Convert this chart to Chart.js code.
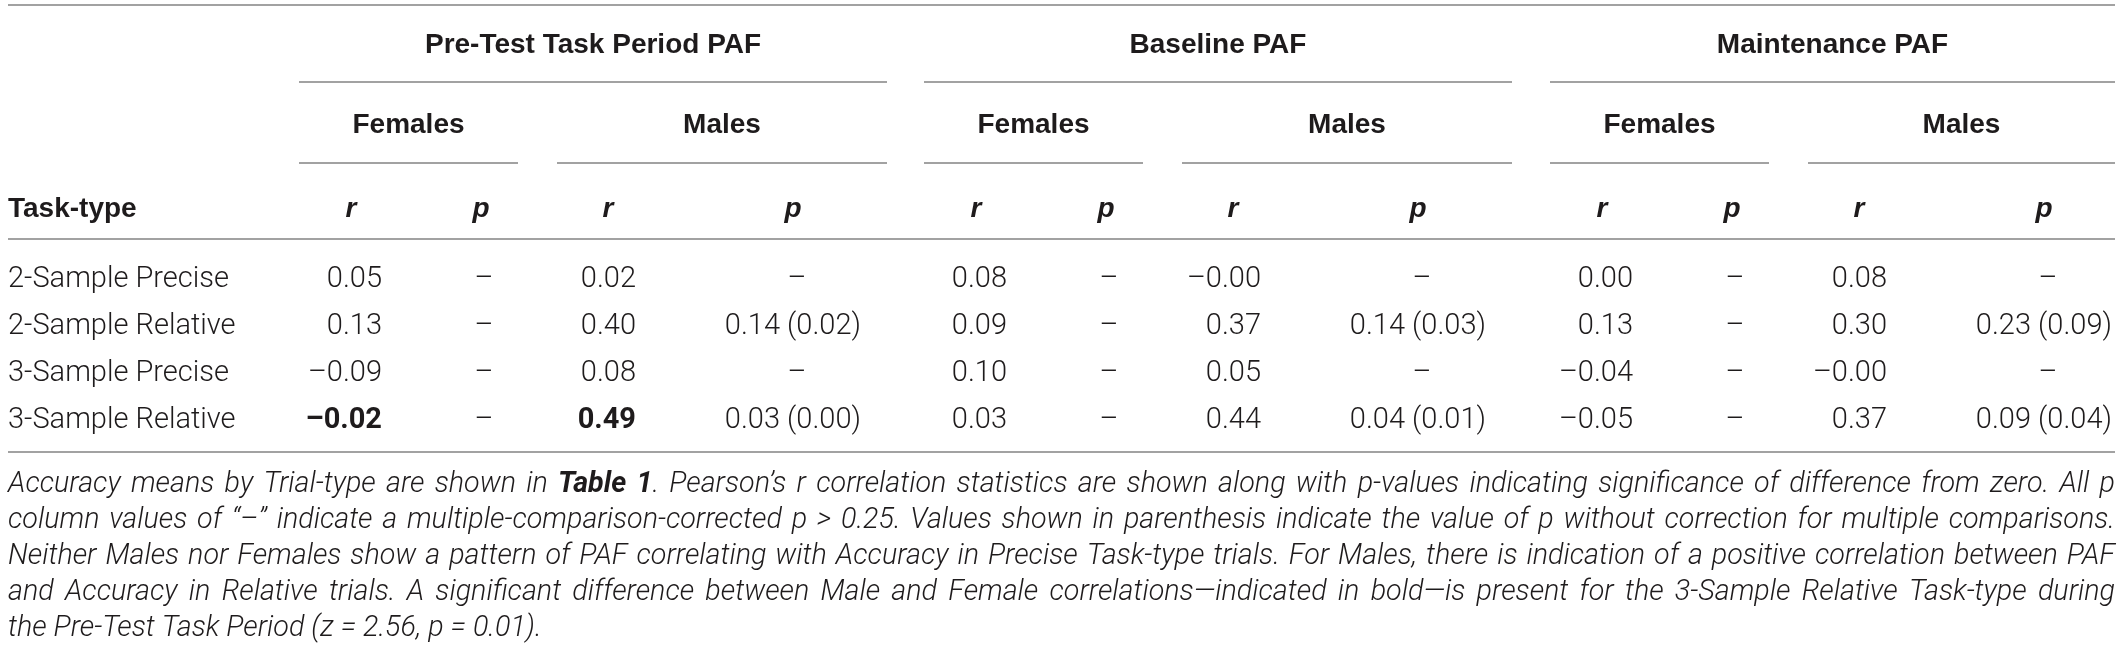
<!DOCTYPE html>
<html>
<head>
<meta charset="utf-8">
<title>PAF correlation with Accuracy by Task-type</title>
<script src="https://cdn.jsdelivr.net/npm/chart.js@4.4.1/dist/chart.umd.min.js"></script>
<style>
  html, body { margin: 0; padding: 0; background: #fff; }
  #wrap { width: 2121px; height: 651px; }
</style>
</head>
<body>
<div id="wrap"><canvas id="pafTable" width="2121" height="651"></canvas></div>
<script>
// --- Table values ---
const periods = ['Pre-Test Task Period PAF', 'Baseline PAF', 'Maintenance PAF'];
const sexes = ['Females', 'Males'];
const statLabels = ['r', 'p'];
const rowHeader = 'Task-type';
const taskTypes = ['2-Sample Precise', '2-Sample Relative', '3-Sample Precise', '3-Sample Relative'];

// Pearson r, one list per period (in taskTypes order). -0 prints as "–0.00"
const femaleR = [
  [0.05, 0.13, -0.09, -0.02],
  [0.08, 0.09, 0.10, 0.03],
  [0.00, 0.13, -0.04, -0.05]
];
const maleR = [
  [0.02, 0.40, 0.08, 0.49],
  [-0, 0.37, 0.05, 0.44],
  [0.08, 0.30, -0, 0.37]
];
// p: null = corrected p > 0.25 (dash), else [corrected, uncorrected]
const femaleP = [
  [null, null, null, null],
  [null, null, null, null],
  [null, null, null, null]
];
const maleP = [
  [null, [0.14, 0.02], null, [0.03, 0.00]],
  [null, [0.14, 0.03], null, [0.04, 0.01]],
  [null, [0.23, 0.09], null, [0.09, 0.04]]
];
// rows with a significant Male/Female difference (printed bold), per period
const boldRows = [[3], [], []];

const footnote = [
  [['Accuracy means by Trial-type are shown in '], ['Table 1', true], ['. Pearson\u2019s r correlation statistics are shown along with p-values indicating significance of difference from zero. All p']],
  [['column values of \u201c\u2013\u201d indicate a multiple-comparison-corrected p > 0.25. Values shown in parenthesis indicate the value of p without correction for multiple comparisons.']],
  [['Neither Males nor Females show a pattern of PAF correlating with Accuracy in Precise Task-type trials. For Males, there is indication of a positive correlation between PAF']],
  [['and Accuracy in Relative trials. A significant difference between Male and Female correlations\u2014indicated in bold\u2014is present for the 3-Sample Relative Task-type during']],
  [['the Pre-Test Task Period (z = 2.56, p = 0.01).']]
];

// --- Layout (page units = pixels) ---
const TABLE_LEFT = 8, TABLE_RIGHT = 2115;
const GROUP_ORIGIN = [0, 625, 1251];
const SEX_SPAN = { Females: [299, 518], Males: [557, 887] };
const COLS = {
  Females: { rHead: 351, rRight: 382, pHead: 481, pDash: 484, pRight: 540 },
  Males:   { rHead: 608, rRight: 636, pHead: 793, pDash: 797, pRight: 861 }
};
const Y = {
  top: 5, group: 43, groupRule: 82, sex: 123, sexRule: 163,
  head: 207, headRule: 239, row0: 277, rowStep: 47, bottom: 452,
  note0: 482, noteStep: 36
};

const INK = '#1e1b1c';
const RULE = '#a2a2a2';
const FAMILY = 'Roboto, "Liberation Sans", sans-serif';
const FONT_HEAD = 'bold 28px "Liberation Sans", Arial, sans-serif';
const FONT_HEAD_I = 'italic bold 28px "Liberation Sans", Arial, sans-serif';
const FONT_CELL = '300 29px ' + FAMILY;
const FONT_CELL_B = 'bold 29px ' + FAMILY;
const noteFont = (size, bold) => `italic ${bold ? 'bold' : '300'} ${size}px ${FAMILY}`;

function fmtR(v) {
  const neg = v < 0 || Object.is(v, -0);
  return (neg ? '\u2013' : '') + Math.abs(v).toFixed(2);
}
function fmtP(p) {
  return p ? `${p[0].toFixed(2)} (${p[1].toFixed(2)})` : '\u2013';
}

// one scatter dataset per table column; the points carry the cell text
function buildDatasets() {
  const sets = [];
  periods.forEach((period, g) => {
    sexes.forEach(sex => {
      const col = COLS[sex];
      const rVals = sex === 'Females' ? femaleR[g] : maleR[g];
      const pVals = sex === 'Females' ? femaleP[g] : maleP[g];

      sets.push({
        label: `${period} ${sex} r`,
        data: rVals.map((v, i) => ({ x: GROUP_ORIGIN[g] + col.rRight, y: Y.row0 + i * Y.rowStep })),
        cells: rVals.map((v, i) => ({ text: fmtR(v), align: 'right', bold: boldRows[g].includes(i) }))
      });
      sets.push({
        label: `${period} ${sex} p`,
        data: pVals.map((p, i) => ({ x: GROUP_ORIGIN[g] + (p ? col.pRight : col.pDash), y: Y.row0 + i * Y.rowStep })),
        cells: pVals.map(p => ({ text: fmtP(p), align: p ? 'right' : 'center', bold: false }))
      });
    });
  });
  return sets;
}

function capShift(font) {
  const size = parseFloat(font.match(/(\d+(\.\d+)?)px/)[1]);
  return size * 0.36;
}

// split a footnote line into words, remembering where the spaces were
function lineWords(segs) {
  const items = [];
  let gap = false;
  segs.forEach(([txt, bold]) => {
    txt.split(' ').forEach((w, i) => {
      if (i > 0) gap = true;
      if (w === '') return;
      items.push({ text: w, bold: !!bold, gap: gap && items.length > 0 });
      gap = false;
    });
  });
  return items;
}

function naturalWidth(ctx, items, size) {
  ctx.font = noteFont(size, false);
  const spaceW = ctx.measureText(' ').width;
  let w = 0;
  items.forEach(it => {
    ctx.font = noteFont(size, it.bold);
    w += ctx.measureText(it.text).width + (it.gap ? spaceW : 0);
  });
  return w;
}

function drawJustified(ctx, items, size, x0, x1, y, justify) {
  ctx.font = noteFont(size, false);
  const spaceW = ctx.measureText(' ').width;
  const gaps = items.filter(it => it.gap).length;
  const natural = naturalWidth(ctx, items, size);
  const extra = justify && gaps ? (x1 - x0 - natural) / gaps : 0;
  let cx = x0;
  ctx.textAlign = 'left';
  items.forEach(it => {
    if (it.gap) cx += spaceW + extra;
    ctx.font = noteFont(size, it.bold);
    ctx.fillText(it.text, cx, y);
    cx += ctx.measureText(it.text).width;
  });
}

const tablePlugin = {
  id: 'tableText',
  afterDatasetsDraw(chart) {
    const { ctx } = chart;
    const sx = v => chart.scales.x.getPixelForValue(v);
    const sy = v => chart.scales.y.getPixelForValue(v);
    ctx.save();

    // rules
    ctx.strokeStyle = RULE;
    ctx.lineWidth = 2;
    const hline = (a, b, yv) => {
      ctx.beginPath();
      ctx.moveTo(sx(a), sy(yv));
      ctx.lineTo(sx(b), sy(yv));
      ctx.stroke();
    };
    hline(TABLE_LEFT, TABLE_RIGHT, Y.top);
    hline(TABLE_LEFT, TABLE_RIGHT, Y.headRule);
    hline(TABLE_LEFT, TABLE_RIGHT, Y.bottom);

    ctx.fillStyle = INK;
    ctx.textBaseline = 'alphabetic';

    periods.forEach((period, g) => {
      const o = GROUP_ORIGIN[g];
      const gx0 = o + SEX_SPAN.Females[0];
      const gx1 = Math.min(o + SEX_SPAN.Males[1], TABLE_RIGHT);
      hline(gx0, gx1, Y.groupRule);
      ctx.font = FONT_HEAD;
      ctx.textAlign = 'center';
      ctx.fillText(period, sx((gx0 + gx1) / 2), sy(Y.group) + capShift(FONT_HEAD));

      sexes.forEach(sex => {
        const a = o + SEX_SPAN[sex][0];
        const b = Math.min(o + SEX_SPAN[sex][1], TABLE_RIGHT);
        hline(a, b, Y.sexRule);
        ctx.font = FONT_HEAD;
        ctx.textAlign = 'center';
        ctx.fillText(sex, sx((a + b) / 2), sy(Y.sex) + capShift(FONT_HEAD));

        ctx.font = FONT_HEAD_I;
        ctx.fillText(statLabels[0], sx(o + COLS[sex].rHead), sy(Y.head) + capShift(FONT_HEAD));
        ctx.fillText(statLabels[1], sx(o + COLS[sex].pHead), sy(Y.head) + capShift(FONT_HEAD));
      });
    });

    // row header + task types
    ctx.textAlign = 'left';
    ctx.font = FONT_HEAD;
    ctx.fillText(rowHeader, sx(TABLE_LEFT), sy(Y.head) + capShift(FONT_HEAD));
    ctx.font = FONT_CELL;
    taskTypes.forEach((t, i) => {
      ctx.fillText(t, sx(TABLE_LEFT), sy(Y.row0 + i * Y.rowStep) + capShift(FONT_CELL));
    });

    // cells, placed at the dataset points
    chart.data.datasets.forEach((ds, di) => {
      chart.getDatasetMeta(di).data.forEach((pt, i) => {
        const c = ds.cells[i];
        ctx.font = c.bold ? FONT_CELL_B : FONT_CELL;
        ctx.textAlign = c.align;
        ctx.fillText(c.text, pt.x, pt.y + capShift(FONT_CELL));
      });
    });

    // footnote: justified, size chosen so the widest line just fits
    const lines = footnote.map(lineWords);
    const avail = sx(TABLE_RIGHT) - sx(TABLE_LEFT);
    const widest = Math.max(...lines.slice(0, -1).map(l => naturalWidth(ctx, l, 24)));
    const size = Math.min(30, 24 * avail * 0.975 / widest);
    lines.forEach((items, i) => {
      const yv = sy(Y.note0 + i * Y.noteStep) + size * 0.36;
      drawJustified(ctx, items, size, sx(TABLE_LEFT), sx(TABLE_RIGHT), yv, i < lines.length - 1);
    });

    ctx.restore();
  }
};

new Chart(document.getElementById('pafTable'), {
  type: 'scatter',
  data: { datasets: buildDatasets() },
  options: {
    responsive: false,
    animation: false,
    events: [],
    layout: { padding: 0 },
    elements: { point: { radius: 0, hoverRadius: 0 } },
    scales: {
      x: { type: 'linear', min: 0, max: 2121, display: false },
      y: { type: 'linear', min: 0, max: 651, reverse: true, display: false }
    },
    plugins: { legend: { display: false }, tooltip: { enabled: false } }
  },
  plugins: [tablePlugin]
});
</script>
</body>
</html>
